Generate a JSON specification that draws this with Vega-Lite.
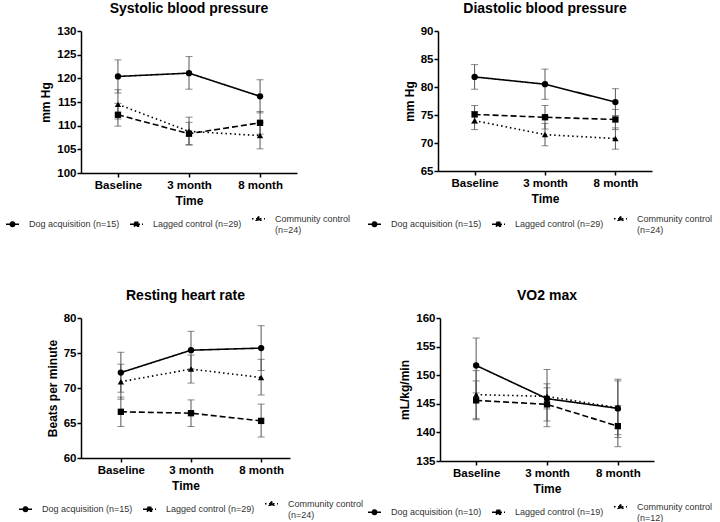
{
  "$schema": "https://vega.github.io/schema/vega-lite/v6.json",
  "padding": {"left": 5, "top": 2, "right": 0, "bottom": 0},
  "config": {
    "font": "Liberation Sans",
    "view": {"stroke": null},
    "axis": {"grid": false, "domainColor": "black", "domainWidth": 1.5, "tickColor": "black", "tickWidth": 1.5, "tickSize": 4, "labelPadding": 2, "labelFont": "Liberation Sans", "labelFontSize": 11.5, "labelFontWeight": "bold", "labelColor": "black", "titleFont": "Liberation Sans", "titleFontSize": 12, "titleFontWeight": "bold", "titleColor": "black"},
    "axisY": {"titlePadding": 4, "labelPadding": 1, "labelOverlap": false},
    "axisX": {"titlePadding": 5, "labelAngle": 0},
    "title": {"font": "Liberation Sans", "fontSize": 14, "fontWeight": "bold", "color": "black", "offset": 9, "anchor": "middle", "frame": "group"},
    "legend": {"labelFont": "Liberation Sans", "labelFontSize": 9, "labelColor": "#333", "padding": 0}
  },
  "datasets": {
    "sbp": [
      {"time": "Baseline", "group": "Dog acquisition (n=15)", "mean": 120.4, "lo": 116.9, "hi": 123.9},
      {"time": "3 month", "group": "Dog acquisition (n=15)", "mean": 121.1, "lo": 117.7, "hi": 124.6},
      {"time": "8 month", "group": "Dog acquisition (n=15)", "mean": 116.2, "lo": 112.7, "hi": 119.7},
      {"time": "Baseline", "group": "Lagged control (n=29)", "mean": 112.3, "lo": 109.9, "hi": 114.7},
      {"time": "3 month", "group": "Lagged control (n=29)", "mean": 108.3, "lo": 106.0, "hi": 110.7},
      {"time": "8 month", "group": "Lagged control (n=29)", "mean": 110.6, "lo": 108.2, "hi": 113.0},
      {"time": "Baseline", "group": "Community control|(n=24)", "mean": 114.5, "lo": 111.4, "hi": 117.6},
      {"time": "3 month", "group": "Community control|(n=24)", "mean": 108.8, "lo": 105.9, "hi": 111.8},
      {"time": "8 month", "group": "Community control|(n=24)", "mean": 107.9, "lo": 105.1, "hi": 110.7}
    ],
    "dbp": [
      {"time": "Baseline", "group": "Dog acquisition (n=15)", "mean": 81.8, "lo": 79.6, "hi": 84.0},
      {"time": "3 month", "group": "Dog acquisition (n=15)", "mean": 80.5, "lo": 77.8, "hi": 83.2},
      {"time": "8 month", "group": "Dog acquisition (n=15)", "mean": 77.3, "lo": 74.9, "hi": 79.7},
      {"time": "Baseline", "group": "Lagged control (n=29)", "mean": 75.1, "lo": 73.5, "hi": 76.7},
      {"time": "3 month", "group": "Lagged control (n=29)", "mean": 74.6, "lo": 72.5, "hi": 76.7},
      {"time": "8 month", "group": "Lagged control (n=29)", "mean": 74.2, "lo": 72.4, "hi": 76.0},
      {"time": "Baseline", "group": "Community control|(n=24)", "mean": 74.0, "lo": 72.4, "hi": 75.6},
      {"time": "3 month", "group": "Community control|(n=24)", "mean": 71.5, "lo": 69.5, "hi": 73.5},
      {"time": "8 month", "group": "Community control|(n=24)", "mean": 70.8, "lo": 68.9, "hi": 72.7}
    ],
    "rhr": [
      {"time": "Baseline", "group": "Dog acquisition (n=15)", "mean": 72.2, "lo": 69.4, "hi": 75.1},
      {"time": "3 month", "group": "Dog acquisition (n=15)", "mean": 75.4, "lo": 72.7, "hi": 78.1},
      {"time": "8 month", "group": "Dog acquisition (n=15)", "mean": 75.7, "lo": 72.5, "hi": 78.9},
      {"time": "Baseline", "group": "Lagged control (n=29)", "mean": 66.6, "lo": 64.5, "hi": 68.7},
      {"time": "3 month", "group": "Lagged control (n=29)", "mean": 66.4, "lo": 64.5, "hi": 68.3},
      {"time": "8 month", "group": "Lagged control (n=29)", "mean": 65.3, "lo": 63.0, "hi": 67.7},
      {"time": "Baseline", "group": "Community control|(n=24)", "mean": 70.9, "lo": 68.4, "hi": 73.4},
      {"time": "3 month", "group": "Community control|(n=24)", "mean": 72.7, "lo": 70.7, "hi": 74.7},
      {"time": "8 month", "group": "Community control|(n=24)", "mean": 71.5, "lo": 69.0, "hi": 74.1}
    ],
    "vo2": [
      {"time": "Baseline", "group": "Dog acquisition (n=10)", "mean": 151.7, "lo": 146.9, "hi": 156.5},
      {"time": "3 month", "group": "Dog acquisition (n=10)", "mean": 145.9, "lo": 141.0, "hi": 151.0},
      {"time": "8 month", "group": "Dog acquisition (n=10)", "mean": 144.2, "lo": 139.1, "hi": 149.3},
      {"time": "Baseline", "group": "Lagged control (n=19)", "mean": 145.6, "lo": 142.2, "hi": 149.0},
      {"time": "3 month", "group": "Lagged control (n=19)", "mean": 144.9, "lo": 142.0, "hi": 147.8},
      {"time": "8 month", "group": "Lagged control (n=19)", "mean": 141.1, "lo": 137.5, "hi": 144.7},
      {"time": "Baseline", "group": "Community control|(n=12)", "mean": 146.6, "lo": 142.4, "hi": 150.8},
      {"time": "3 month", "group": "Community control|(n=12)", "mean": 146.3, "lo": 144.1, "hi": 148.5},
      {"time": "8 month", "group": "Community control|(n=12)", "mean": 144.3, "lo": 139.6, "hi": 149.0}
    ]
  },
  "resolve": {"scale": {"x": "independent", "y": "independent", "shape": "independent", "strokeDash": "independent"}, "legend": {"shape": "independent", "strokeDash": "independent"}},
  "columns": 2,
  "align": "none",
  "spacing": {"row": 54, "column": 3},
  "concat": [
    {
      "width": 216, "height": 142,
      "title": "Systolic blood pressure",
      "data": {"name": "sbp"},
      "encoding": {"x": {"field": "time", "type": "ordinal", "sort": ["Baseline", "3 month", "8 month"], "scale": {"type": "point", "padding": 0.52}, "axis": {"title": "Time"}}, "y": {"field": "mean", "type": "quantitative", "title": "mm Hg", "scale": {"domain": [100, 130], "nice": false, "zero": false}, "axis": {"values": [100, 105, 110, 115, 120, 125, 130]}}},
      "resolve": {"scale": {"shape": "independent", "strokeDash": "independent"}, "legend": {"shape": "independent", "strokeDash": "independent"}},
      "layer": [
        {"mark": {"type": "errorbar", "color": "#555", "thickness": 1, "ticks": {"size": 7}},
         "encoding": {"y": {"field": "lo", "type": "quantitative", "title": "mm Hg"}, "y2": {"field": "hi"}}},
        {"mark": {"type": "line", "color": "black", "strokeWidth": 1.6},
         "encoding": {"strokeDash": {"field": "group", "type": "nominal", "scale": {"domain": ["Dog acquisition (n=15)", "Lagged control (n=29)", "Community control|(n=24)"], "range": [[1, 0], [6, 3], [1.5, 3]]}, "legend": null}}},
        {"mark": {"type": "point", "filled": true, "color": "black", "opacity": 1, "size": 40},
         "encoding": {"shape": {"field": "group", "type": "nominal", "scale": {"domain": ["Dog acquisition (n=15)", "Lagged control (n=29)", "Community control|(n=24)"], "range": ["circle", "square", "triangle-up"]}, "legend": null}}},
        {"mark": {"type": "point", "filled": true, "fill": "black", "stroke": "black", "strokeWidth": 1.3, "size": 0},
         "encoding": {
           "shape": {"field": "group", "type": "nominal", "scale": {"domain": ["Dog acquisition (n=15)", "Lagged control (n=29)", "Community control|(n=24)"], "range": ["M-1,0H1M-0.36,0A0.36,0.36 0 1,1 0.36,0A0.36,0.36 0 1,1 -0.36,0Z", "M-1,0H1M-0.32,-0.32H0.32V0.32H-0.32Z", "M-1,0H1M0,-0.38L0.36,0.26H-0.36Z"]},
             "legend": {"orient": "none", "legendX": -76, "legendY": 180, "direction": "horizontal", "columns": 3, "title": null, "symbolSize": 169, "symbolOpacity": 1, "symbolStrokeWidth": 1.3, "labelOffset": 9, "columnPadding": 7, "labelExpr": "split(datum.label, '|')"}},
           "strokeDash": {"field": "group", "type": "nominal", "scale": {"domain": ["Dog acquisition (n=15)", "Lagged control (n=29)", "Community control|(n=24)"], "range": [[1, 0], [4, 2], [1.5, 2.5]]},
             "legend": {"orient": "none", "legendX": -76, "legendY": 180, "direction": "horizontal", "columns": 3, "title": null, "symbolSize": 169, "symbolOpacity": 1, "symbolStrokeWidth": 1.3, "labelOffset": 9, "columnPadding": 7, "labelExpr": "split(datum.label, '|')"}}}}
      ]
    },
    {
      "width": 214, "height": 140,
      "title": "Diastolic blood pressure",
      "data": {"name": "dbp"},
      "encoding": {"x": {"field": "time", "type": "ordinal", "sort": ["Baseline", "3 month", "8 month"], "scale": {"type": "point", "padding": 0.52}, "axis": {"title": "Time"}}, "y": {"field": "mean", "type": "quantitative", "title": "mm Hg", "scale": {"domain": [65, 90], "nice": false, "zero": false}, "axis": {"values": [65, 70, 75, 80, 85, 90]}}},
      "resolve": {"scale": {"shape": "independent", "strokeDash": "independent"}, "legend": {"shape": "independent", "strokeDash": "independent"}},
      "layer": [
        {"mark": {"type": "errorbar", "color": "#555", "thickness": 1, "ticks": {"size": 7}},
         "encoding": {"y": {"field": "lo", "type": "quantitative", "title": "mm Hg"}, "y2": {"field": "hi"}}},
        {"mark": {"type": "line", "color": "black", "strokeWidth": 1.6},
         "encoding": {"strokeDash": {"field": "group", "type": "nominal", "scale": {"domain": ["Dog acquisition (n=15)", "Lagged control (n=29)", "Community control|(n=24)"], "range": [[1, 0], [6, 3], [1.5, 3]]}, "legend": null}}},
        {"mark": {"type": "point", "filled": true, "color": "black", "opacity": 1, "size": 40},
         "encoding": {"shape": {"field": "group", "type": "nominal", "scale": {"domain": ["Dog acquisition (n=15)", "Lagged control (n=29)", "Community control|(n=24)"], "range": ["circle", "square", "triangle-up"]}, "legend": null}}},
        {"mark": {"type": "point", "filled": true, "fill": "black", "stroke": "black", "strokeWidth": 1.3, "size": 0},
         "encoding": {
           "shape": {"field": "group", "type": "nominal", "scale": {"domain": ["Dog acquisition (n=15)", "Lagged control (n=29)", "Community control|(n=24)"], "range": ["M-1,0H1M-0.36,0A0.36,0.36 0 1,1 0.36,0A0.36,0.36 0 1,1 -0.36,0Z", "M-1,0H1M-0.32,-0.32H0.32V0.32H-0.32Z", "M-1,0H1M0,-0.38L0.36,0.26H-0.36Z"]},
             "legend": {"orient": "none", "legendX": -71, "legendY": 180, "direction": "horizontal", "columns": 3, "title": null, "symbolSize": 169, "symbolOpacity": 1, "symbolStrokeWidth": 1.3, "labelOffset": 9, "columnPadding": 7, "labelExpr": "split(datum.label, '|')"}},
           "strokeDash": {"field": "group", "type": "nominal", "scale": {"domain": ["Dog acquisition (n=15)", "Lagged control (n=29)", "Community control|(n=24)"], "range": [[1, 0], [4, 2], [1.5, 2.5]]},
             "legend": {"orient": "none", "legendX": -71, "legendY": 180, "direction": "horizontal", "columns": 3, "title": null, "symbolSize": 169, "symbolOpacity": 1, "symbolStrokeWidth": 1.3, "labelOffset": 9, "columnPadding": 7, "labelExpr": "split(datum.label, '|')"}}}}
      ]
    },
    {
      "width": 209, "height": 140,
      "title": "Resting heart rate",
      "data": {"name": "rhr"},
      "encoding": {"x": {"field": "time", "type": "ordinal", "sort": ["Baseline", "3 month", "8 month"], "scale": {"type": "point", "padding": 0.49, "align": 0.58}, "axis": {"title": "Time"}}, "y": {"field": "mean", "type": "quantitative", "title": "Beats per minute", "scale": {"domain": [60, 80], "nice": false, "zero": false}, "axis": {"values": [60, 65, 70, 75, 80]}}},
      "resolve": {"scale": {"shape": "independent", "strokeDash": "independent"}, "legend": {"shape": "independent", "strokeDash": "independent"}},
      "layer": [
        {"mark": {"type": "errorbar", "color": "#555", "thickness": 1, "ticks": {"size": 7}},
         "encoding": {"y": {"field": "lo", "type": "quantitative", "title": "Beats per minute"}, "y2": {"field": "hi"}}},
        {"mark": {"type": "line", "color": "black", "strokeWidth": 1.6},
         "encoding": {"strokeDash": {"field": "group", "type": "nominal", "scale": {"domain": ["Dog acquisition (n=15)", "Lagged control (n=29)", "Community control|(n=24)"], "range": [[1, 0], [6, 3], [1.5, 3]]}, "legend": null}}},
        {"mark": {"type": "point", "filled": true, "color": "black", "opacity": 1, "size": 40},
         "encoding": {"shape": {"field": "group", "type": "nominal", "scale": {"domain": ["Dog acquisition (n=15)", "Lagged control (n=29)", "Community control|(n=24)"], "range": ["circle", "square", "triangle-up"]}, "legend": null}}},
        {"mark": {"type": "point", "filled": true, "fill": "black", "stroke": "black", "strokeWidth": 1.3, "size": 0},
         "encoding": {
           "shape": {"field": "group", "type": "nominal", "scale": {"domain": ["Dog acquisition (n=15)", "Lagged control (n=29)", "Community control|(n=24)"], "range": ["M-1,0H1M-0.36,0A0.36,0.36 0 1,1 0.36,0A0.36,0.36 0 1,1 -0.36,0Z", "M-1,0H1M-0.32,-0.32H0.32V0.32H-0.32Z", "M-1,0H1M0,-0.38L0.36,0.26H-0.36Z"]},
             "legend": {"orient": "none", "legendX": -63, "legendY": 178, "direction": "horizontal", "columns": 3, "title": null, "symbolSize": 169, "symbolOpacity": 1, "symbolStrokeWidth": 1.3, "labelOffset": 9, "columnPadding": 7, "labelExpr": "split(datum.label, '|')"}},
           "strokeDash": {"field": "group", "type": "nominal", "scale": {"domain": ["Dog acquisition (n=15)", "Lagged control (n=29)", "Community control|(n=24)"], "range": [[1, 0], [4, 2], [1.5, 2.5]]},
             "legend": {"orient": "none", "legendX": -63, "legendY": 178, "direction": "horizontal", "columns": 3, "title": null, "symbolSize": 169, "symbolOpacity": 1, "symbolStrokeWidth": 1.3, "labelOffset": 9, "columnPadding": 7, "labelExpr": "split(datum.label, '|')"}}}}
      ]
    },
    {
      "width": 214, "height": 143,
      "title": "VO2 max",
      "data": {"name": "vo2"},
      "encoding": {"x": {"field": "time", "type": "ordinal", "sort": ["Baseline", "3 month", "8 month"], "scale": {"type": "point", "padding": 0.51}, "axis": {"title": "Time"}}, "y": {"field": "mean", "type": "quantitative", "title": "mL/kg/min", "scale": {"domain": [135, 160], "nice": false, "zero": false}, "axis": {"values": [135, 140, 145, 150, 155, 160]}}},
      "resolve": {"scale": {"shape": "independent", "strokeDash": "independent"}, "legend": {"shape": "independent", "strokeDash": "independent"}},
      "layer": [
        {"mark": {"type": "errorbar", "color": "#555", "thickness": 1, "ticks": {"size": 7}},
         "encoding": {"y": {"field": "lo", "type": "quantitative", "title": "mL/kg/min"}, "y2": {"field": "hi"}}},
        {"mark": {"type": "line", "color": "black", "strokeWidth": 1.6},
         "encoding": {"strokeDash": {"field": "group", "type": "nominal", "scale": {"domain": ["Dog acquisition (n=10)", "Lagged control (n=19)", "Community control|(n=12)"], "range": [[1, 0], [6, 3], [1.5, 3]]}, "legend": null}}},
        {"mark": {"type": "point", "filled": true, "color": "black", "opacity": 1, "size": 40},
         "encoding": {"shape": {"field": "group", "type": "nominal", "scale": {"domain": ["Dog acquisition (n=10)", "Lagged control (n=19)", "Community control|(n=12)"], "range": ["circle", "square", "triangle-up"]}, "legend": null}}},
        {"mark": {"type": "point", "filled": true, "fill": "black", "stroke": "black", "strokeWidth": 1.3, "size": 0},
         "encoding": {
           "shape": {"field": "group", "type": "nominal", "scale": {"domain": ["Dog acquisition (n=10)", "Lagged control (n=19)", "Community control|(n=12)"], "range": ["M-1,0H1M-0.36,0A0.36,0.36 0 1,1 0.36,0A0.36,0.36 0 1,1 -0.36,0Z", "M-1,0H1M-0.32,-0.32H0.32V0.32H-0.32Z", "M-1,0H1M0,-0.38L0.36,0.26H-0.36Z"]},
             "legend": {"orient": "none", "legendX": -73, "legendY": 181, "direction": "horizontal", "columns": 3, "title": null, "symbolSize": 169, "symbolOpacity": 1, "symbolStrokeWidth": 1.3, "labelOffset": 9, "columnPadding": 7, "labelExpr": "split(datum.label, '|')"}},
           "strokeDash": {"field": "group", "type": "nominal", "scale": {"domain": ["Dog acquisition (n=10)", "Lagged control (n=19)", "Community control|(n=12)"], "range": [[1, 0], [4, 2], [1.5, 2.5]]},
             "legend": {"orient": "none", "legendX": -73, "legendY": 181, "direction": "horizontal", "columns": 3, "title": null, "symbolSize": 169, "symbolOpacity": 1, "symbolStrokeWidth": 1.3, "labelOffset": 9, "columnPadding": 7, "labelExpr": "split(datum.label, '|')"}}}}
      ]
    }
  ]
}
